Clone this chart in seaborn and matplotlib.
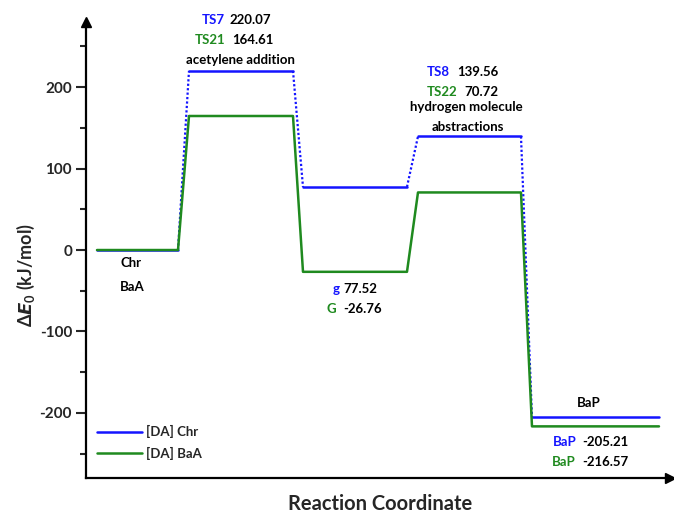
import numpy as np
import pandas as pd
import matplotlib
matplotlib.use("Agg")
import matplotlib.pyplot as plt
import seaborn as sns
from matplotlib.lines import Line2D

sns.set_style("white")
plt.rcParams['font.family'] = ['Lato', 'DejaVu Sans']
plt.rcParams['font.weight'] = 'bold'
plt.rcParams['mathtext.fontset'] = 'custom'
plt.rcParams['mathtext.it'] = 'DejaVu Sans:italic:bold'
plt.rcParams['mathtext.rm'] = 'Lato:bold'

# energies (kJ/mol) of each stage
stages = ["reactant", "TS1", "intermediate", "TS2", "product"]
energy_chr = [0.0, 220.07, 77.52, 139.56, -205.21]
energy_baa = [0.0, 164.61, -26.76, 70.72, -216.57]
names_chr = ["Chr", "TS7", "g", "TS8", "BaP"]
names_baa = ["BaA", "TS21", "G", "TS22", "BaP"]

# horizontal extent of each level on the reaction coordinate
level_start = [0.11, 1.03, 2.17, 3.32, 4.46]
level_end = [0.92, 2.07, 3.21, 4.35, 5.73]

BLUE = "#1414ff"
GREEN = "#1f8a1f"


def levels_df(energy):
    rows = []
    for i, e in enumerate(energy):
        rows.append({"seg": i, "x": level_start[i], "E": e})
        rows.append({"seg": i, "x": level_end[i], "E": e})
    return pd.DataFrame(rows)


def links_df(energy):
    rows = []
    for i in range(len(energy) - 1):
        rows.append({"seg": i, "x": level_end[i], "E": energy[i]})
        rows.append({"seg": i, "x": level_start[i + 1], "E": energy[i + 1]})
    return pd.DataFrame(rows)


def path_df(energy):
    xs, ys = [], []
    for i, e in enumerate(energy):
        xs += [level_start[i], level_end[i]]
        ys += [e, e]
    return pd.DataFrame({"x": xs, "E": ys})


fig = plt.figure(figsize=(6.74, 5.15), dpi=100)
ax = fig.add_axes([0.1276, 0.0718, 0.8694, 0.8854])

# blue path: solid levels + dotted connectors
sns.lineplot(data=links_df(energy_chr), x="x", y="E", units="seg", estimator=None,
             sort=False, color=BLUE, lw=1.6, linestyle=(0, (1, 1)), ax=ax)
sns.lineplot(data=levels_df(energy_chr), x="x", y="E", units="seg", estimator=None,
             sort=False, color=BLUE, lw=1.8, ax=ax)
# green path: one solid line
sns.lineplot(data=path_df(energy_baa), x="x", y="E", estimator=None,
             sort=False, color=GREEN, lw=1.8, ax=ax)

ax.set_xlim(0, 5.86)
ax.set_ylim(-280, 280)
ax.set_xticks([])
ax.set_yticks([-200, -100, 0, 100, 200])
ax.set_yticklabels(["-200", "-100", "0", "100", "200"], fontsize=11, fontweight='bold')
ax.set_yticks([-250, -150, -50, 50, 150, 250], minor=True)
ax.tick_params(axis='y', which='major', direction='out', length=7, width=1.5, pad=3, left=True)
ax.tick_params(axis='y', which='minor', direction='out', length=4.5, width=1.5, left=True)
for s in ["top", "right"]:
    ax.spines[s].set_visible(False)
for s in ["left", "bottom"]:
    ax.spines[s].set_linewidth(1.6)
    ax.spines[s].set_color("black")

# axis arrows
ax.plot([0], [1.0], marker="^", color="black", markersize=7, transform=ax.transAxes, clip_on=False)
ax.plot([0.997], [0], marker=">", color="black", markersize=7, transform=ax.transAxes, clip_on=False)

ax.set_ylabel(r"$\Delta\mathit{E}_{\mathit{0}}$ (kJ/mol)", fontsize=13, fontweight='bold')
ax.yaxis.set_label_coords(-0.084, 0.446)
ax.set_xlabel("Reaction Coordinate", fontsize=14.5, fontweight='bold')
ax.xaxis.set_label_coords(0.502, -0.036)

fs = 9.5
# TS1 labels
ax.text(1.39, 282, names_chr[1], color=BLUE, ha='right', va='center', fontsize=fs)
ax.text(1.43, 282, f"{energy_chr[1]:.2f}", color='black', ha='left', va='center', fontsize=fs)
ax.text(1.39, 257.7, names_baa[1], color=GREEN, ha='right', va='center', fontsize=fs)
ax.text(1.46, 257.7, f"{energy_baa[1]:.2f}", color='black', ha='left', va='center', fontsize=fs)
ax.text(1.545, 233, "acetylene addition", color='black', ha='center', va='center', fontsize=fs)

# TS2 labels
ax.text(3.64, 218.4, names_chr[3], color=BLUE, ha='right', va='center', fontsize=fs)
ax.text(3.71, 218.4, f"{energy_chr[3]:.2f}", color='black', ha='left', va='center', fontsize=fs)
ax.text(3.71, 193.9, names_baa[3], color=GREEN, ha='right', va='center', fontsize=fs)
ax.text(3.78, 193.9, f"{energy_baa[3]:.2f}", color='black', ha='left', va='center', fontsize=fs)
ax.text(3.805, 175.5, "hydrogen molecule", color='black', ha='center', va='center', fontsize=fs)
ax.text(3.815, 150.9, "abstractions", color='black', ha='center', va='center', fontsize=fs)

# reactants
ax.text(0.34, -16, names_chr[0], color='black', ha='left', va='center', fontsize=fs)
ax.text(0.34, -45.4, names_baa[0], color='black', ha='left', va='center', fontsize=fs)

# intermediates
ax.text(2.54, -47.9, names_chr[2], color=BLUE, ha='right', va='center', fontsize=fs)
ax.text(2.57, -47.9, f"{energy_chr[2]:.2f}", color='black', ha='left', va='center', fontsize=fs)
ax.text(2.50, -72.4, names_baa[2], color=GREEN, ha='right', va='center', fontsize=fs)
ax.text(2.57, -72.4, f"{energy_baa[2]:.2f}", color='black', ha='left', va='center', fontsize=fs)

# products
ax.text(5.03, -187.7, "BaP", color='black', ha='center', va='center', fontsize=fs)
ax.text(4.91, -235.6, names_chr[4], color=BLUE, ha='right', va='center', fontsize=fs)
ax.text(4.96, -235.6, f"{energy_chr[4]:.2f}", color='black', ha='left', va='center', fontsize=fs)
ax.text(4.90, -260.1, names_baa[4], color=GREEN, ha='right', va='center', fontsize=fs)
ax.text(4.96, -260.1, f"{energy_baa[4]:.2f}", color='black', ha='left', va='center', fontsize=fs)

handles = [Line2D([], [], color=BLUE, lw=1.8), Line2D([], [], color=GREEN, lw=1.8)]
ax.legend(handles, ["[DA] Chr", "[DA] BaA"], loc='upper left', bbox_to_anchor=(0.019, 0.116),
          frameon=False, fontsize=fs, handlelength=3.4, handletextpad=0.3,
          labelspacing=0.65, borderpad=0, borderaxespad=0)

fig.savefig("out.png", dpi=100)
